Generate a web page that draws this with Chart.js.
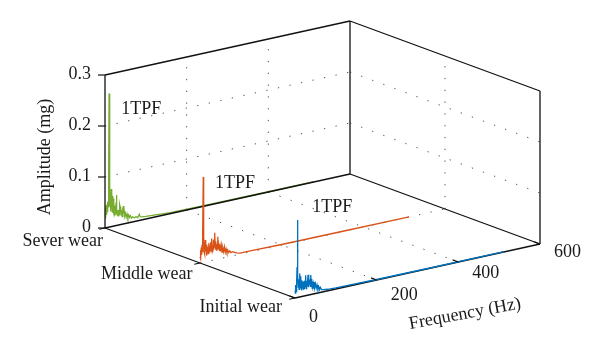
<!DOCTYPE html>
<html>
<head>
<meta charset="utf-8">
<script src="https://cdn.jsdelivr.net/npm/chart.js@4/dist/chart.umd.min.js"></script>
<style>
  html, body { margin: 0; padding: 0; background: #fff; }
  canvas { display: block; }
</style>
</head>
<body>
<canvas id="waterfall" width="600" height="353"></canvas>
<script>
// wear stages, back to front
const wearLabels = ['Sever wear', 'Middle wear', 'Initial wear'];
const freqTicks = [0, 200, 400, 600];
const ampTicks = [0, 0.1, 0.2, 0.3];
const peakLabel = '1TPF';

// spectra, [frequency (Hz), amplitude (mg)]
const severWear = [
  [0,0.02],[1,0.04],[2,0.03],[3,0.045],[4,0.025],[5,0.04],[6,0.03],[7,0.05],[8,0.04],[9,0.12],
  [10,0.262],[11,0.1],[12,0.04],[13,0.055],[14,0.03],[15,0.074],[16,0.035],[17,0.05],[18,0.028],
  [19,0.06],[20,0.03],[21,0.054],[22,0.025],[23,0.04],[24,0.02],[25,0.035],[26,0.022],[27,0.045],
  [28,0.06],[29,0.03],[30,0.02],[31,0.03],[32,0.018],[33,0.025],[34,0.03],[35,0.02],[36,0.039],
  [37,0.035],[38,0.025],[39,0.03],[40,0.018],[41,0.028],[42,0.015],[43,0.032],[44,0.025],[45,0.035],
  [46,0.02],[47,0.025],[48,0.015],[50,0.02],[52,0.012],[54,0.018],[56,0.01],[58,0.015],[60,0.01],
  [62,0.013],[65,0.008],[68,0.01],[72,0.007],[76,0.009],[80,0.006],[84,0.012],[86,0.007],[90,0.006],
  [100,0.005],[120,0.004],[160,0.002],[250,0.001],[400,0.0005],[512,0.0005]
];
const middleWear = [
  [0,0.012],[1,0.025],[2,0.008],[3,0.03],[4,0.015],[5,0.035],[6,0.02],[7,0.06],[8,0.167],[9,0.05],
  [10,0.02],[11,0.038],[12,0.015],[13,0.043],[14,0.02],[15,0.03],[16,0.012],[17,0.033],[18,0.02],
  [19,0.028],[20,0.015],[21,0.025],[22,0.035],[23,0.018],[24,0.03],[25,0.02],[26,0.036],[27,0.025],
  [28,0.043],[29,0.02],[30,0.03],[31,0.015],[32,0.028],[33,0.02],[34,0.04],[35,0.025],[36,0.053],
  [37,0.03],[38,0.02],[39,0.035],[40,0.018],[41,0.03],[42,0.022],[43,0.044],[44,0.025],[45,0.03],
  [46,0.018],[47,0.028],[48,0.015],[49,0.022],[50,0.014],[52,0.026],[54,0.012],[56,0.02],[58,0.012],
  [60,0.021],[62,0.01],[64,0.016],[66,0.009],[68,0.013],[70,0.008],[73,0.011],[76,0.007],[80,0.008],
  [85,0.006],[90,0.004],[98,0.002],[120,0.002],[200,0.001],[350,0.0005],[512,0]
];
const initialWear = [
  [0,0.015],[1,0.008],[2,0.025],[3,0.012],[4,0.03],[5,0.06],[6,0.152],[7,0.04],[8,0.02],[9,0.035],
  [10,0.015],[11,0.03],[12,0.046],[13,0.018],[14,0.04],[15,0.02],[16,0.032],[17,0.012],[18,0.025],
  [19,0.015],[20,0.029],[21,0.012],[22,0.022],[23,0.015],[24,0.03],[25,0.018],[26,0.04],[27,0.02],
  [28,0.012],[29,0.028],[30,0.018],[31,0.03],[32,0.04],[33,0.02],[34,0.015],[35,0.03],[36,0.02],
  [37,0.025],[38,0.015],[39,0.038],[40,0.02],[41,0.03],[42,0.012],[43,0.025],[44,0.015],[45,0.02],
  [46,0.01],[47,0.023],[48,0.012],[50,0.019],[52,0.01],[54,0.016],[56,0.008],[58,0.012],[60,0.006],
  [62,0.01],[65,0.005],[70,0.004],[80,0.003],[100,0.002],[200,0.001],[350,0.0005],[512,0.0005]
];

// oblique view of the 3d box, in canvas pixels
const view = { ox: 105, oy: 228, fx: 245 / 600, fy: -54 / 600, wx: 95, wy: 35, az: -510 };
const fMax = 600, aMax = 0.3, wMax = wearLabels.length - 1;

function project(f, w, a) {
  return { x: view.ox + f * view.fx + w * view.wx, y: view.oy + f * view.fy + w * view.wy + a * view.az };
}

function seg(p, q, style) {
  return Object.assign({
    data: [project(...p), project(...q)],
    showLine: true, pointRadius: 0, borderWidth: 1.3, borderColor: '#111', fill: false
  }, style);
}

const dotted = { borderColor: 'rgba(40,40,40,0.8)', borderDash: [1.3, 10.5], borderWidth: 1 };
const grid = [];
freqTicks.slice(1, -1).forEach(f => {
  grid.push(seg([f, 0, 0], [f, 0, aMax], dotted));   // back wall
  grid.push(seg([f, 0, 0], [f, wMax, 0], dotted));   // floor
});
ampTicks.slice(1, -1).forEach(a => {
  grid.push(seg([0, 0, a], [fMax, 0, a], dotted));
  grid.push(seg([fMax, 0, a], [fMax, wMax, a], dotted));
});
for (let w = 1; w < wMax; w++) {
  grid.push(seg([fMax, w, 0], [fMax, w, aMax], dotted));
  grid.push(seg([0, w, 0], [fMax, w, 0], dotted));
}

const frame = [
  seg([0, 0, 0], [0, 0, aMax]),
  seg([0, 0, aMax], [fMax, 0, aMax]),
  seg([fMax, 0, aMax], [fMax, wMax, aMax]),
  seg([fMax, 0, 0], [fMax, 0, aMax]),
  seg([fMax, wMax, 0], [fMax, wMax, aMax]),
  seg([0, 0, 0], [fMax, 0, 0]),
  seg([fMax, 0, 0], [fMax, wMax, 0]),
  seg([0, 0, 0], [0, wMax, 0]),
  seg([0, wMax, 0], [fMax, wMax, 0])
];

function spectrum(rows, w, color) {
  return {
    data: rows.map(r => project(r[0], w, r[1])),
    showLine: true, pointRadius: 0, borderWidth: 1.3, borderColor: color, fill: false
  };
}

const serif = '"Liberation Serif", "DejaVu Serif", serif';

const textPlugin = {
  id: 'waterfallText',
  afterDatasetsDraw(chart) {
    const ctx = chart.ctx, sx = chart.scales.x, sy = chart.scales.y;
    const px = p => ({ x: sx.getPixelForValue(p.x), y: sy.getPixelForValue(p.y) });
    ctx.save();
    ctx.strokeStyle = '#111';
    ctx.lineWidth = 1.2;
    ctx.fillStyle = '#1a1a1a';
    ctx.font = '18px ' + serif;
    ctx.textBaseline = 'middle';

    // amplitude ticks
    ctx.textAlign = 'right';
    ampTicks.forEach(a => {
      const p = px(project(0, 0, a));
      ctx.beginPath(); ctx.moveTo(p.x - 7, p.y); ctx.lineTo(p.x, p.y); ctx.stroke();
      ctx.fillText(a === 0 ? '0' : a.toFixed(1), p.x - 14, p.y - 1);
    });

    // frequency ticks on the front edge
    ctx.textAlign = 'left';
    freqTicks.forEach(f => {
      const p = px(project(f, wMax, 0)), q = px(project(f, wMax - 0.06, 0));
      ctx.beginPath(); ctx.moveTo(p.x, p.y); ctx.lineTo(q.x, q.y); ctx.stroke();
      ctx.fillText(String(f), p.x + 14, p.y + 19 - 11 * f / fMax);
    });

    // wear ticks and labels
    ctx.textAlign = 'right';
    wearLabels.forEach((lab, w) => {
      const p = px(project(0, w, 0)), q = px(project(-14, w, 0));
      ctx.beginPath(); ctx.moveTo(p.x, p.y); ctx.lineTo(q.x, q.y); ctx.stroke();
      ctx.fillText(lab, p.x - 2 - 11 * w / wMax, p.y + 13 - 4 * w / wMax);
    });

    // 1TPF annotations
    ctx.textAlign = 'left';
    [[40, 0, 0.226], [37, 1, 0.15], [42, 2, 0.171]].forEach(t => {
      const p = px(project(t[0], t[1], t[2]));
      ctx.fillText(peakLabel, p.x, p.y);
    });

    // axis titles
    ctx.textAlign = 'center';
    ctx.save();
    ctx.translate(45, 157);
    ctx.rotate(-Math.PI / 2);
    ctx.fillText('Amplitude (mg)', 0, 0);
    ctx.restore();
    ctx.save();
    ctx.translate(465, 314);
    ctx.rotate(-10.5 * Math.PI / 180);
    ctx.fillText('Frequency (Hz)', 0, 0);
    ctx.restore();
    ctx.restore();
  }
};

new Chart(document.getElementById('waterfall'), {
  type: 'scatter',
  data: {
    // first dataset is drawn on top
    datasets: [
      spectrum(initialWear, 2, '#0072BD'),
      spectrum(middleWear, 1, '#D95319'),
      ...frame,
      spectrum(severWear, 0, '#77AC30'),
      ...grid
    ]
  },
  options: {
    responsive: false,
    animation: false,
    layout: { padding: 0 },
    plugins: { legend: { display: false }, tooltip: { enabled: false } },
    scales: {
      x: { type: 'linear', min: 0, max: 600, display: false },
      y: { type: 'linear', min: 0, max: 353, reverse: true, display: false }
    }
  },
  plugins: [textPlugin]
});
</script>
</body>
</html>
